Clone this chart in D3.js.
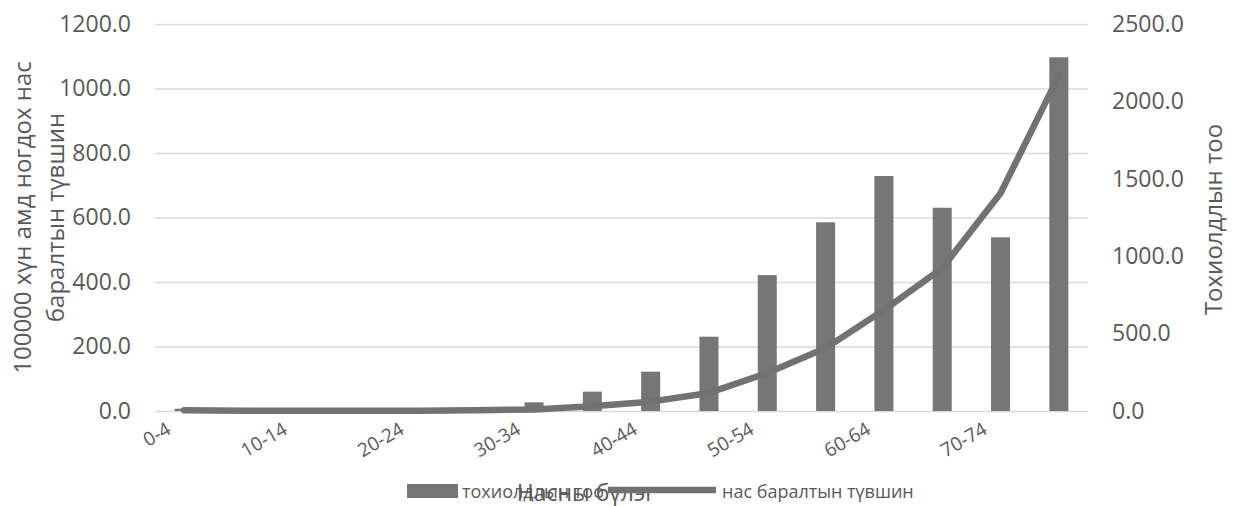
<!DOCTYPE html>
<html>
<head>
<meta charset="utf-8">
<script src="https://cdn.jsdelivr.net/npm/d3@7"></script>
<style>
  html, body { margin: 0; padding: 0; background: #fff; }
  svg { display: block; }
  text { font-family: "Open Sans", "Noto Sans", sans-serif; fill: #595959; }
</style>
</head>
<body>
<svg id="chart" width="1236" height="506"></svg>
<script>
// ---- data ----
const categories = ["0-4","5-9","10-14","15-19","20-24","25-29","30-34","35-39","40-44","45-49","50-54","55-59","60-64","65-69","70-74","75+"];
const caseCounts = [15, 20, 10, 8, 10, 14, 56, 125, 254, 480, 878, 1219, 1518, 1313, 1122, 2285];
const mortalityRate = [2, 1, 1, 1, 1, 2, 5, 15, 29, 56, 118, 195, 313, 443, 675, 1040];
const leftTicks = [0, 200, 400, 600, 800, 1000, 1200];
const rightTicks = [0, 500, 1000, 1500, 2000, 2500];
const seriesNames = ["тохиолдлын тоо", "нас баралтын түвшин"];
const leftTitle = ["100000 хүн амд ногдох нас", "баралтын түвшин"];
const rightTitle = "Тохиолдлын тоо";
const xTitle = "Насны бүлэг";

// ---- layout ----
const svg = d3.select("#chart");
const plot = { left: 155, right: 1088, top: 24, bottom: 411 };
const barColor = "#767676";
const lineColor = "#727272";

const x = d3.scaleBand().domain(categories).range([plot.left, plot.right])
  .paddingInner(0.674).paddingOuter(0.337);
const yL = d3.scaleLinear().domain([0, 1200]).range([plot.bottom, plot.top]);
const yR = d3.scaleLinear().domain([0, 2500]).range([plot.bottom, plot.top]);
const cx = c => x(c) + x.bandwidth() / 2;

// gridlines
svg.append("g").selectAll("line").data(leftTicks).join("line")
  .attr("x1", plot.left).attr("x2", plot.right)
  .attr("y1", d => yL(d) + 0.5).attr("y2", d => yL(d) + 0.5)
  .attr("stroke", "#d9d9d9").attr("stroke-width", 1.3);

// left axis labels
const leftAxis = d3.axisLeft(yL).tickValues(leftTicks).tickFormat(d3.format(".1f")).tickSize(0).tickPadding(0);
const gl = svg.append("g").attr("transform", `translate(131,0)`).call(leftAxis);
gl.select(".domain").remove();
gl.selectAll("text").attr("font-size", 23).style("fill", "#595959").style("font-family", "Open Sans");

// right axis labels
const rightAxis = d3.axisRight(yR).tickValues(rightTicks).tickFormat(d3.format(".1f")).tickSize(0).tickPadding(0);
const gr = svg.append("g").attr("transform", `translate(1112,0)`).call(rightAxis);
gr.select(".domain").remove();
gr.selectAll("text").attr("font-size", 23).style("fill", "#595959").style("font-family", "Open Sans");

// bars
svg.append("g").selectAll("rect").data(categories).join("rect")
  .attr("x", d => x(d))
  .attr("width", x.bandwidth())
  .attr("y", (d, i) => yR(caseCounts[i]))
  .attr("height", (d, i) => plot.bottom - yR(caseCounts[i]))
  .attr("fill", barColor);

// line
const line = d3.line().x((d, i) => cx(categories[i])).y(d => yL(d));
svg.append("path").datum(mortalityRate)
  .attr("d", line)
  .attr("fill", "none")
  .attr("stroke", lineColor)
  .attr("stroke-width", 6.5)
  .attr("stroke-linejoin", "round")
  .attr("stroke-linecap", "round");

// x tick labels (every other)
svg.append("g").selectAll("text").data(categories.filter((d, i) => i % 2 === 0)).join("text")
  .attr("transform", d => `translate(${cx(d) - 12},433) rotate(-30)`)
  .attr("text-anchor", "end")
  .attr("font-size", 19)
  .text(d => d);

// left axis title
const lt = svg.append("text").attr("transform", `translate(0,${(plot.top + plot.bottom) / 2}) rotate(-90)`)
  .attr("text-anchor", "middle").attr("font-size", 24);
lt.append("tspan").attr("x", 0).attr("y", 31).text(leftTitle[0]);
lt.append("tspan").attr("x", 0).attr("y", 64).text(leftTitle[1]);

// right axis title
svg.append("text").attr("transform", `translate(1222,${(plot.top + plot.bottom) / 2 + 2}) rotate(-90)`)
  .attr("text-anchor", "middle").attr("font-size", 24).text(rightTitle);

// x axis title
svg.append("text").attr("x", 586).attr("y", 501).attr("text-anchor", "middle")
  .attr("font-size", 23).text(xTitle);

// legend
const lg = svg.append("g");
lg.append("rect").attr("x", 407).attr("y", 484).attr("width", 51).attr("height", 14).attr("fill", barColor);
lg.append("text").attr("x", 462).attr("y", 498).attr("font-size", 18).text(seriesNames[0]);
lg.append("line").attr("x1", 608).attr("x2", 716).attr("y1", 490).attr("y2", 490)
  .attr("stroke", lineColor).attr("stroke-width", 6.5);
lg.append("text").attr("x", 722).attr("y", 498).attr("font-size", 18).text(seriesNames[1]);
</script>
</body>
</html>
